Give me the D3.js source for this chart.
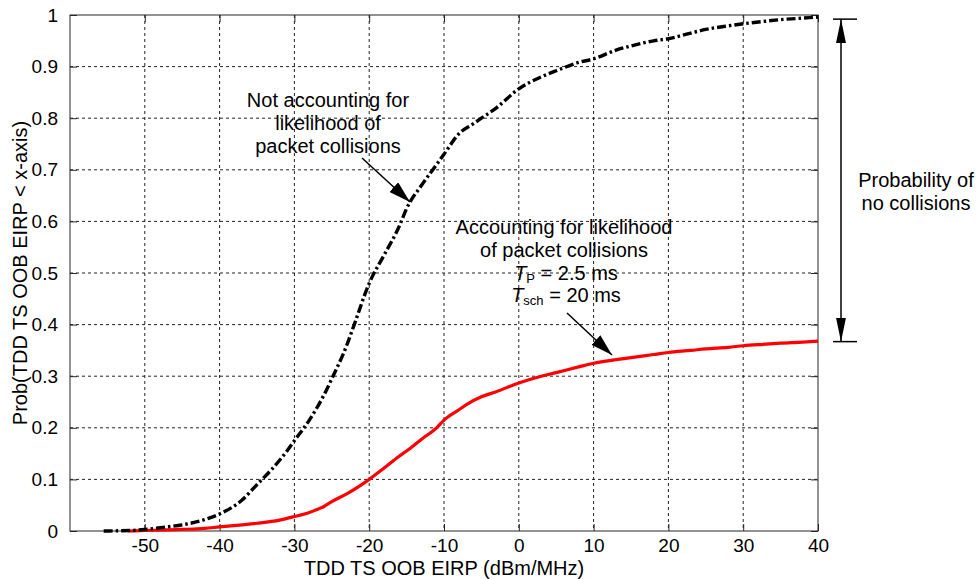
<!DOCTYPE html>
<html>
<head>
<meta charset="utf-8">
<script src="https://cdn.jsdelivr.net/npm/d3@7"></script>
<style>
  html, body { margin: 0; padding: 0; background: #fff; }
  svg { display: block; font-family: "Liberation Sans", Arial, Helvetica, sans-serif; }
</style>
</head>
<body>
<svg id="chart" width="980" height="579"></svg>
<script>
// CDF of TDD TS out-of-band EIRP, with and without packet-collision likelihood
const eirpNoCollision = [-55.5, -52, -50, -47, -45, -42, -40, -37, -35, -33, -31, -30, -28, -26, -25, -23, -22, -20, -18, -16, -15, -13, -11, -10, -8, -6, -5, -3, 0, 3, 5, 8, 10, 13, 15, 18, 20, 23, 25, 28, 30, 33, 35, 38, 40];
const probNoCollision = [0.0, 0.001, 0.003, 0.008, 0.012, 0.022, 0.033, 0.06, 0.09, 0.12, 0.155, 0.175, 0.215, 0.265, 0.295, 0.36, 0.4, 0.48, 0.535, 0.59, 0.625, 0.67, 0.71, 0.73, 0.77, 0.79, 0.8, 0.82, 0.857, 0.88, 0.892, 0.908, 0.915, 0.932, 0.94, 0.95, 0.954, 0.965, 0.972, 0.979, 0.983, 0.988, 0.991, 0.994, 0.996];

const eirpCollision = [-52.2, -50, -47, -45, -42, -40, -37, -35, -32, -30, -28, -26, -25, -23, -21, -20, -18, -16, -15, -13, -11, -10, -8, -7, -5, -3, 0, 3, 5, 8, 10, 13, 15, 18, 20, 23, 25, 28, 30, 33, 35, 38, 40];
const probCollision = [0.0, 0.001, 0.002, 0.003, 0.005, 0.008, 0.012, 0.015, 0.021, 0.028, 0.036, 0.048, 0.057, 0.072, 0.09, 0.1, 0.122, 0.145, 0.155, 0.178, 0.2, 0.215, 0.235, 0.245, 0.26, 0.27, 0.287, 0.3, 0.307, 0.318, 0.325, 0.332, 0.336, 0.342, 0.346, 0.35, 0.353, 0.356, 0.359, 0.362, 0.364, 0.366, 0.368];

const xTicks = [-50, -40, -30, -20, -10, 0, 10, 20, 30, 40];
const yTicks = [0, 0.1, 0.2, 0.3, 0.4, 0.5, 0.6, 0.7, 0.8, 0.9, 1];
const xTickLabels = ["-50", "-40", "-30", "-20", "-10", "0", "10", "20", "30", "40"];
const yTickLabels = ["0", "0.1", "0.2", "0.3", "0.4", "0.5", "0.6", "0.7", "0.8", "0.9", "1"];

const plot = { left: 70, right: 818, top: 15, bottom: 531 };
const svg = d3.select("#chart");

const x = d3.scaleLinear().domain([-60, 40]).range([plot.left, plot.right]);
const y = d3.scaleLinear().domain([0, 1]).range([plot.bottom, plot.top]);

const frameColor = "#262626";
const tickFont = 19;
const labelFont = 20;

// grid
const grid = svg.append("g");
grid.selectAll("line.vg").data(xTicks.filter(d => d > -60 && d < 40)).enter()
  .append("line").attr("x1", d => x(d)).attr("x2", d => x(d))
  .attr("y1", plot.top).attr("y2", plot.bottom)
  .attr("stroke", "#222").attr("stroke-width", 1).attr("stroke-dasharray", "3,3");
grid.selectAll("line.hg").data(yTicks.filter(d => d > 0 && d < 1)).enter()
  .append("line").attr("y1", d => y(d)).attr("y2", d => y(d))
  .attr("x1", plot.left).attr("x2", plot.right)
  .attr("stroke", "#222").attr("stroke-width", 1).attr("stroke-dasharray", "3,3");

// axes with inward ticks
const axB = d3.axisBottom(x).tickValues(xTicks).tickSize(-7).tickPadding(8)
  .tickFormat((d, i) => xTickLabels[i]);
const axT = d3.axisTop(x).tickValues(xTicks).tickSize(-7).tickFormat("");
const axL = d3.axisLeft(y).tickValues(yTicks).tickSize(-7).tickPadding(12)
  .tickFormat((d, i) => yTickLabels[i]);
const axR = d3.axisRight(y).tickValues(yTicks).tickSize(-7).tickFormat("");

function styleAxis(g) {
  g.select(".domain").remove();
  g.selectAll(".tick line").attr("stroke", frameColor);
  g.selectAll(".tick text").attr("fill", "#000").attr("font-size", tickFont)
    .attr("font-family", "Liberation Sans, Arial, sans-serif");
}
svg.append("g").attr("transform", `translate(0,${plot.bottom})`).call(axB).call(styleAxis);
svg.append("g").attr("transform", `translate(0,${plot.top})`).call(axT).call(styleAxis);
svg.append("g").attr("transform", `translate(${plot.left},0)`).call(axL).call(styleAxis);
svg.append("g").attr("transform", `translate(${plot.right},0)`).call(axR).call(styleAxis);

svg.append("rect").attr("x", plot.left).attr("y", plot.top)
  .attr("width", plot.right - plot.left).attr("height", plot.bottom - plot.top)
  .attr("fill", "none").attr("stroke", frameColor).attr("stroke-width", 1);

// curves
const line = d3.line().x(d => x(d[0])).y(d => y(d[1])).curve(d3.curveMonotoneX);
svg.append("path")
  .datum(d3.zip(eirpCollision, probCollision))
  .attr("d", line).attr("fill", "none").attr("stroke", "#ff0000").attr("stroke-width", 3.2);
svg.append("path")
  .datum(d3.zip(eirpNoCollision, probNoCollision))
  .attr("d", line).attr("fill", "none").attr("stroke", "#000").attr("stroke-width", 3.4)
  .attr("stroke-dasharray", "9,3,2.5,3");

// axis titles
svg.append("text").attr("x", (plot.left + plot.right) / 2).attr("y", 575)
  .attr("text-anchor", "middle").attr("font-size", labelFont)
  .text("TDD TS OOB EIRP (dBm/MHz)");
svg.append("text").attr("transform", `translate(27,${(plot.top + plot.bottom) / 2}) rotate(-90)`)
  .attr("text-anchor", "middle").attr("font-size", labelFont)
  .text("Prob(TDD TS OOB EIRP < x-axis)");

// arrowheads
const defs = svg.append("defs");
defs.append("marker").attr("id", "head").attr("viewBox", "0 0 22 13")
  .attr("refX", 22).attr("refY", 6.5).attr("markerWidth", 22).attr("markerHeight", 13)
  .attr("markerUnits", "userSpaceOnUse").attr("orient", "auto")
  .append("path").attr("d", "M0,0 L22,6.5 L0,13 Z").attr("fill", "#000");
defs.append("marker").attr("id", "longhead").attr("viewBox", "0 0 24 10")
  .attr("refX", 24).attr("refY", 5).attr("markerWidth", 24).attr("markerHeight", 10)
  .attr("markerUnits", "userSpaceOnUse").attr("orient", "auto-start-reverse")
  .append("path").attr("d", "M0,0 L24,5 L0,10 Z").attr("fill", "#000");

// annotation: curve without collisions
const ann1 = svg.append("text").attr("text-anchor", "middle").attr("font-size", labelFont);
["Not accounting for", "likelihood of", "packet collisions"].forEach((t, i) =>
  ann1.append("tspan").attr("x", 328).attr("y", 107 + i * 23).text(t));
svg.append("line").attr("x1", 362).attr("y1", 158).attr("x2", 410).attr("y2", 202)
  .attr("stroke", "#000").attr("stroke-width", 1.5).attr("marker-end", "url(#head)");

// annotation: curve with collisions
const ann2 = svg.append("text").attr("text-anchor", "middle").attr("font-size", labelFont);
ann2.append("tspan").attr("x", 564).attr("y", 234).text("Accounting for likelihood");
ann2.append("tspan").attr("x", 564).attr("y", 257).text("of packet collisions");
const l3 = svg.append("text").attr("text-anchor", "middle").attr("font-size", labelFont)
  .attr("x", 566).attr("y", 280);
l3.append("tspan").attr("font-style", "italic").text("T");
l3.append("tspan").attr("font-size", 13).attr("dy", 3).text("P");
l3.append("tspan").attr("dy", -3).text(" = 2.5 ms");
const l4 = svg.append("text").attr("text-anchor", "middle").attr("font-size", labelFont)
  .attr("x", 566).attr("y", 302);
l4.append("tspan").attr("font-style", "italic").text("T");
l4.append("tspan").attr("font-size", 13).attr("dy", 3).text("sch");
l4.append("tspan").attr("dy", -3).text(" = 20 ms");
svg.append("line").attr("x1", 567).attr("y1", 313).attr("x2", 612).attr("y2", 355)
  .attr("stroke", "#000").attr("stroke-width", 1.5).attr("marker-end", "url(#head)");

// probability of no collisions: span between the two curve ends
const topP = probNoCollision[probNoCollision.length - 1] - 0.004;
const botP = probCollision[probCollision.length - 1] - 0.001;
const bx = 841;
svg.append("line").attr("x1", bx - 8).attr("x2", bx + 16).attr("y1", y(topP)).attr("y2", y(topP))
  .attr("stroke", "#000").attr("stroke-width", 1.5);
svg.append("line").attr("x1", bx - 8).attr("x2", bx + 16).attr("y1", y(botP)).attr("y2", y(botP))
  .attr("stroke", "#000").attr("stroke-width", 1.5);
svg.append("line").attr("x1", bx).attr("x2", bx).attr("y1", y(topP)).attr("y2", y(botP))
  .attr("stroke", "#000").attr("stroke-width", 1.5)
  .attr("marker-start", "url(#longhead)").attr("marker-end", "url(#longhead)");
const ann3 = svg.append("text").attr("text-anchor", "middle").attr("font-size", labelFont);
ann3.append("tspan").attr("x", 916).attr("y", 187).text("Probability of");
ann3.append("tspan").attr("x", 916).attr("y", 210).text("no collisions");
</script>
</body>
</html>
